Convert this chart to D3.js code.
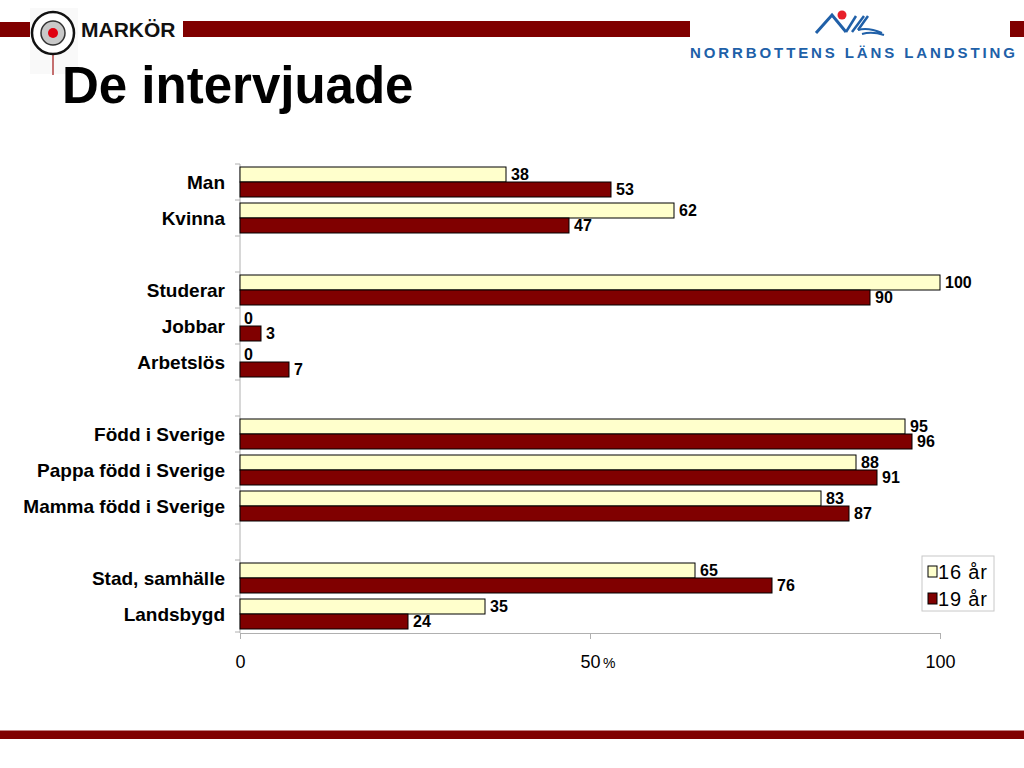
<!DOCTYPE html>
<html><head><meta charset="utf-8">
<script src="https://cdn.jsdelivr.net/npm/d3@7/dist/d3.min.js"></script>
<style>body{margin:0;background:#fff;}svg{display:block;font-family:"Liberation Sans",Arial,sans-serif;}</style>
</head><body>
<svg id="c" width="1024" height="768"></svg>
<script>
// Categories (null = empty gap row)
const categories = ["Man", "Kvinna", null, "Studerar", "Jobbar", "Arbetslös", null,
  "Född i Sverige", "Pappa född i Sverige", "Mamma född i Sverige", null,
  "Stad, samhälle", "Landsbygd"];
const series = ["16 år", "19 år"];
const values16 = [38, 62, null, 100, 0, 0, null, 95, 88, 83, null, 65, 35];
const values19 = [53, 47, null, 90, 3, 7, null, 96, 91, 87, null, 76, 24];
const xTicks = [0, 50, 100];
const colors = ["#FFFFCC", "#800000"];

const svg = d3.select("#c");
const DR = "#800000";

// ---- header decorations ----
svg.append("rect").attr("x",0).attr("y",22).attr("width",30).attr("height",15).attr("fill",DR);
svg.append("rect").attr("x",183).attr("y",21).attr("width",507).attr("height",16).attr("fill",DR);
svg.append("rect").attr("x",1010).attr("y",21).attr("width",14).attr("height",16).attr("fill",DR);
// marker logo
svg.append("rect").attr("x",30).attr("y",8).attr("width",48).attr("height",66).attr("fill","#f9f9f9");
svg.append("line").attr("x1",53).attr("x2",53).attr("y1",33).attr("y2",75).attr("stroke","#b24040").attr("stroke-width",1.5);
svg.append("circle").attr("cx",53).attr("cy",33).attr("r",21).attr("fill","#fff").attr("stroke","#111").attr("stroke-width",2.5);
svg.append("circle").attr("cx",53).attr("cy",33).attr("r",12).attr("fill","#c8c8c8").attr("stroke","#333").attr("stroke-width",1.5);
svg.append("circle").attr("cx",53).attr("cy",33).attr("r",5).attr("fill","#e00010");
svg.append("text").attr("x",81).attr("y",37).attr("font-size",21).attr("font-weight","bold").attr("fill","#111").text("MARKÖR");
// title
svg.append("text").attr("x",62).attr("y",103).attr("font-size",51).attr("font-weight","bold").attr("fill","#000").text("De intervjuade");
// NLL logo
const blue = "#2060a8";
svg.append("path").attr("d","M816,33 L832,15 L846,32").attr("fill","none").attr("stroke",blue).attr("stroke-width",3);
svg.append("path").attr("d","M846,32 L856,16 M852,32 L864,16 M858,30 L868,16").attr("fill","none").attr("stroke",blue).attr("stroke-width",2.5);
svg.append("path").attr("d","M858,30 Q868,27 882,33 M862,34 Q872,31 884,35").attr("fill","none").attr("stroke",blue).attr("stroke-width",2);
svg.append("circle").attr("cx",842).attr("cy",15).attr("r",4.5).attr("fill","#e8202a");
svg.append("text").attr("x",690).attr("y",58).attr("font-size",15).attr("font-weight","bold").attr("fill",blue)
  .attr("letter-spacing",2.9).text("NORRBOTTENS LÄNS LANDSTING");
// bottom band
svg.append("rect").attr("x",0).attr("y",730).attr("width",1024).attr("height",1).attr("fill","#c08080");
svg.append("rect").attr("x",0).attr("y",731).attr("width",1024).attr("height",8).attr("fill",DR);

// ---- chart ----
const x = d3.scaleLinear().domain([0,100]).range([240,940]);
const y = d3.scaleBand().domain(d3.range(categories.length)).range([164,632])
  .paddingInner(1/6).paddingOuter(1/12);
const sub = d3.scaleBand().domain([0,1]).range([0, y.bandwidth()]);
const axisColor = "#b0b0b0";

// y axis line and ticks at slot boundaries
svg.append("line").attr("x1",240).attr("x2",240).attr("y1",164).attr("y2",633).attr("stroke",axisColor);
const step = y.step();
svg.selectAll(".yt").data(d3.range(categories.length+1)).join("line")
  .attr("x1",235).attr("x2",240)
  .attr("y1",i=>164+i*step).attr("y2",i=>164+i*step).attr("stroke",axisColor);

// x axis
const xAxis = svg.append("g").attr("transform","translate(0,633)")
  .call(d3.axisBottom(x).tickValues(xTicks).tickSize(6).tickFormat(d=>d));
xAxis.select(".domain").attr("stroke",axisColor);
xAxis.selectAll(".tick line").attr("stroke",axisColor);
xAxis.selectAll(".tick text").attr("font-size",18).attr("fill","#000").attr("y",0).attr("dy","35px")
  .attr("font-family","Liberation Sans, Arial, sans-serif");
svg.append("text").attr("x",x(50)+13).attr("y",668).attr("font-size",14).attr("fill","#000").text("%");

// category labels
svg.selectAll(".cl").data(categories.map((c,i)=>({c,i})).filter(d=>d.c)).join("text")
  .attr("x",225).attr("y",d=>y(d.i)+y.bandwidth()/2).attr("dy","0.35em")
  .attr("text-anchor","end").attr("font-size",19).attr("font-weight","bold").attr("fill","#000")
  .text(d=>d.c);

// bars
const rows = [];
categories.forEach((c,i)=>{
  if(!c) return;
  rows.push({i, s:0, v:values16[i]});
  rows.push({i, s:1, v:values19[i]});
});
svg.selectAll(".bar").data(rows).join("rect")
  .attr("x",x(0)).attr("y",d=>y(d.i)+sub(d.s))
  .attr("width",d=>x(d.v)-x(0)).attr("height",sub.bandwidth())
  .attr("fill",d=>colors[d.s]).attr("stroke",d=>d.v>0?"#000":"none").attr("stroke-width",1);
svg.selectAll(".vl").data(rows).join("text")
  .attr("x",d=>x(d.v)+(d.v>0?5:4)).attr("y",d=>y(d.i)+sub(d.s)+sub.bandwidth()/2).attr("dy","0.35em")
  .attr("font-size",16).attr("font-weight","bold").attr("fill","#000").text(d=>d.v);

// legend
const lg = svg.append("g").attr("transform","translate(922,556)");
lg.append("rect").attr("width",72).attr("height",55).attr("fill","#fff").attr("stroke","#c8c8c8");
series.forEach((s,k)=>{
  lg.append("rect").attr("x",6).attr("y",10+k*27).attr("width",9).attr("height",11)
    .attr("fill",colors[k]).attr("stroke","#000");
  lg.append("text").attr("x",16).attr("y",16+k*27).attr("dy","0.35em").attr("font-size",20)
    .attr("letter-spacing",0.8).attr("fill","#000").text(s);
});
</script>
</body></html>
